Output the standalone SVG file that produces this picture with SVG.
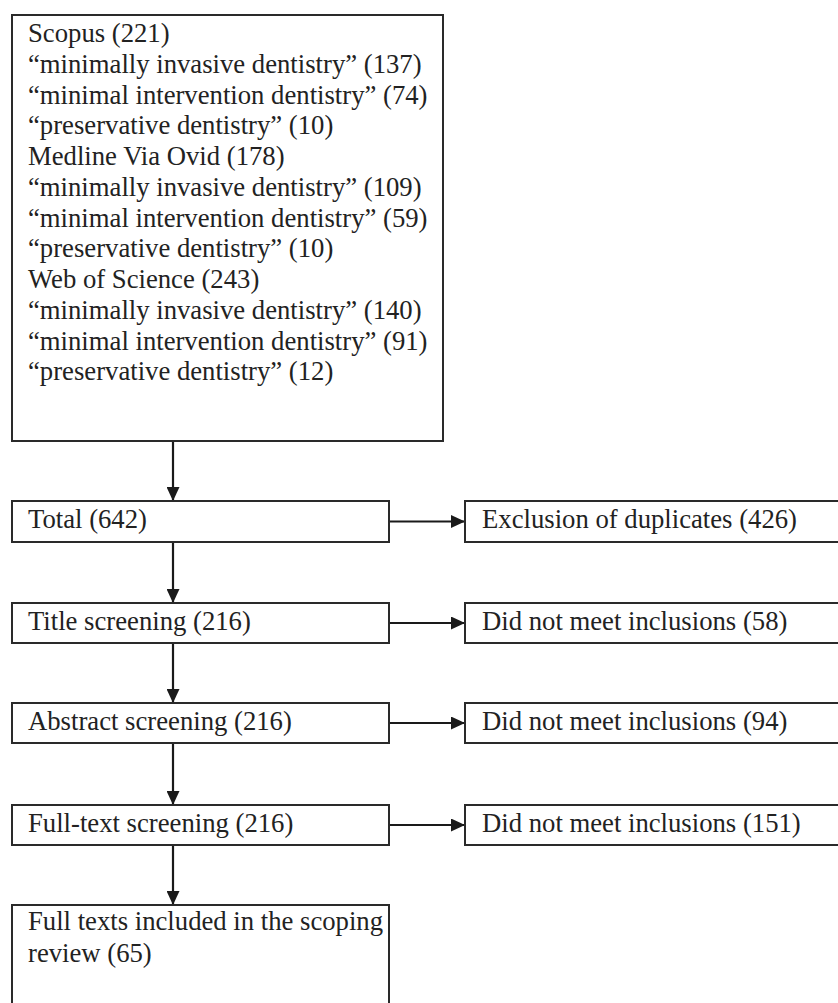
<svg xmlns="http://www.w3.org/2000/svg" width="838" height="1003" viewBox="0 0 838 1003">
<defs>
<style>
.box{fill:#fff;stroke:#2a2a2a;stroke-width:2}
.t{font-family:"Liberation Serif","Times New Roman",serif;font-size:26.7px;fill:#222}
.c{stroke:#1a1a1a;stroke-width:2.2;fill:none;marker-end:url(#ah)}
</style>
<marker id="ah" markerUnits="userSpaceOnUse" markerWidth="14" markerHeight="13" refX="14" refY="6.5" orient="auto">
<path d="M0,0 L14,6.5 L0,13 Z" fill="#1a1a1a"/>
</marker>
</defs>
<rect width="838" height="1003" fill="#fff"/>
<g id="connectors">
<line class="c" x1="173" y1="442" x2="173" y2="501"/>
<line class="c" x1="173" y1="543" x2="173" y2="603"/>
<line class="c" x1="173" y1="644" x2="173" y2="703"/>
<line class="c" x1="173" y1="744" x2="173" y2="805"/>
<line class="c" x1="173" y1="846" x2="173" y2="905"/>
<line class="c" x1="389" y1="521.5" x2="465" y2="521.5"/>
<line class="c" x1="389" y1="623" x2="465" y2="623"/>
<line class="c" x1="389" y1="723" x2="465" y2="723"/>
<line class="c" x1="389" y1="825" x2="465" y2="825"/>
</g>
<g id="sources">
<rect class="box" x="12" y="15" width="431" height="426"/>
<text class="t" x="28" y="42">Scopus (221)</text>
<text class="t" x="28" y="72.75">“minimally invasive dentistry” (137)</text>
<text class="t" x="28" y="103.5">“minimal intervention dentistry” (74)</text>
<text class="t" x="28" y="134.25">“preservative dentistry” (10)</text>
<text class="t" x="28" y="165">Medline Via Ovid (178)</text>
<text class="t" x="28" y="195.75">“minimally invasive dentistry” (109)</text>
<text class="t" x="28" y="226.5">“minimal intervention dentistry” (59)</text>
<text class="t" x="28" y="257.25">“preservative dentistry” (10)</text>
<text class="t" x="28" y="288">Web of Science (243)</text>
<text class="t" x="28" y="318.75">“minimally invasive dentistry” (140)</text>
<text class="t" x="28" y="349.5">“minimal intervention dentistry” (91)</text>
<text class="t" x="28" y="380.25">“preservative dentistry” (12)</text>
</g>
<g id="total">
<rect class="box" x="12" y="501" width="377" height="41"/>
<text class="t" x="28" y="528">Total (642)</text>
</g>
<g id="duplicates">
<rect class="box" x="465" y="501" width="390" height="41"/>
<text class="t" x="482" y="528">Exclusion of duplicates (426)</text>
</g>
<g id="title">
<rect class="box" x="12" y="603" width="377" height="40"/>
<text class="t" x="28" y="630">Title screening (216)</text>
</g>
<g id="excl58">
<rect class="box" x="465" y="603" width="390" height="40"/>
<text class="t" x="482" y="630">Did not meet inclusions (58)</text>
</g>
<g id="abstract">
<rect class="box" x="12" y="703" width="377" height="40"/>
<text class="t" x="28" y="730">Abstract screening (216)</text>
</g>
<g id="excl94">
<rect class="box" x="465" y="703" width="390" height="40"/>
<text class="t" x="482" y="730">Did not meet inclusions (94)</text>
</g>
<g id="fulltext">
<rect class="box" x="12" y="805" width="377" height="40"/>
<text class="t" x="28" y="832">Full-text screening (216)</text>
</g>
<g id="excl151">
<rect class="box" x="465" y="805" width="390" height="40"/>
<text class="t" x="482" y="832">Did not meet inclusions (151)</text>
</g>
<g id="included">
<rect class="box" x="12" y="905" width="377" height="120"/>
<text class="t" x="28" y="930">Full texts included in the scoping</text>
<text class="t" x="28" y="962">review (65)</text>
</g>
</svg>
